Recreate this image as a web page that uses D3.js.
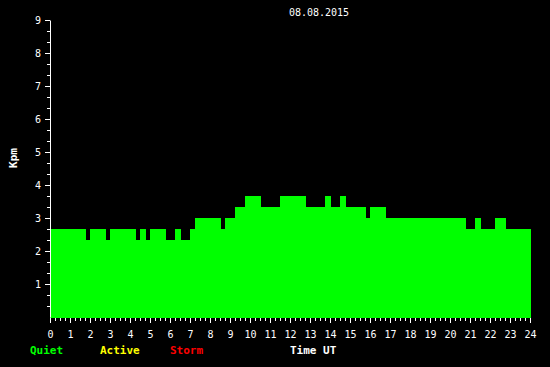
<!DOCTYPE html>
<html>
<head>
<meta charset="utf-8">
<script src="https://cdn.jsdelivr.net/npm/d3@7"></script>
<style>
html, body { margin: 0; padding: 0; background: #000; }
svg { display: block; }
</style>
</head>
<body>
<svg id="chart" width="550" height="367"></svg>
<script>
// Segment start times (hours UT)
const segStart = [0, 1.8, 2.0, 2.8, 3.0, 4.3, 4.5, 4.8, 5.0, 5.8, 6.25, 6.55, 7.0, 7.25, 8.55, 8.75, 9.25, 9.75, 10.55, 11.5, 12.8, 13.75, 14.05, 14.5, 14.8, 15.8, 16.0, 16.8, 20.8, 21.25, 21.55, 22.25, 22.8];
// Segment end times (hours UT)
const segEnd = [1.8, 2.0, 2.8, 3.0, 4.3, 4.5, 4.8, 5.0, 5.8, 6.25, 6.55, 7.0, 7.25, 8.55, 8.75, 9.25, 9.75, 10.55, 11.5, 12.8, 13.75, 14.05, 14.5, 14.8, 15.8, 16.0, 16.8, 20.8, 21.25, 21.55, 22.25, 22.8, 24.05];
// Kpm values
const kpm = [2.667, 2.333, 2.667, 2.333, 2.667, 2.333, 2.667, 2.333, 2.667, 2.333, 2.667, 2.333, 2.667, 3.0, 2.667, 3.0, 3.333, 3.667, 3.333, 3.667, 3.333, 3.667, 3.333, 3.667, 3.333, 3.0, 3.333, 3.0, 2.667, 3.0, 2.667, 3.0, 2.667];

const xTicks = d3.range(0, 25);          // 0..24 hour labels
const yTicks = [1, 2, 3, 4, 5, 6, 7, 8, 9];
const title = "08.08.2015";
const legendItems = ["Quiet", "Active", "Storm"];
const legendColors = ["#00ff00", "#ffff00", "#ff0000"];

const svg = d3.select("#chart");
svg.append("rect").attr("width", 550).attr("height", 367).attr("fill", "#000");

const x = d3.scaleLinear().domain([0, 24]).range([50, 530]);
const y = d3.scaleLinear().domain([0, 9]).range([317, 20]);

const mono = "'DejaVu Sans Mono', 'Liberation Mono', monospace";

// bars
const data = kpm.map((v, i) => ({ s: segStart[i], e: segEnd[i], v }));
const barColor = v => v >= 5 ? "#ff0000" : (v >= 4 ? "#ffff00" : "#00ff00");
svg.append("g").selectAll("rect").data(data).join("rect")
  .attr("x", d => x(d.s))
  .attr("width", d => x(d.e) - x(d.s))
  .attr("y", d => Math.round(y(d.v)))
  .attr("height", d => y(0) + 1 - Math.round(y(d.v)))
  .attr("fill", d => barColor(d.v))
  .attr("shape-rendering", "crispEdges");

// y axis minor ticks
const yMinor = d3.range(1, 27).filter(i => i % 3 !== 0).map(i => i / 3);
svg.append("g").attr("transform", "translate(50,0)")
  .call(d3.axisLeft(y).tickValues(yMinor).tickSize(3).tickSizeOuter(0).tickFormat(""))
  .call(g => g.select(".domain").remove())
  .call(g => g.selectAll("line").attr("stroke", "#fff"));

// y axis major
svg.append("g").attr("transform", "translate(50,0)")
  .call(d3.axisLeft(y).tickValues(yTicks).tickSize(5).tickSizeOuter(0).tickPadding(4))
  .call(g => g.select(".domain").attr("stroke", "#fff"))
  .call(g => g.selectAll("line").attr("stroke", "#fff"))
  .call(g => g.selectAll("text").attr("fill", "#fff").attr("font-family", mono).attr("font-size", 10));

// x axis minor ticks (15 min)
const xMinor = d3.range(0, 97).filter(i => i % 4 !== 0).map(i => i / 4);
svg.append("g").attr("transform", "translate(0,318)")
  .call(d3.axisBottom(x).tickValues(xMinor).tickSize(3).tickSizeOuter(0).tickFormat(""))
  .call(g => g.select(".domain").remove())
  .call(g => g.selectAll("line").attr("stroke", "#fff"));

// x axis major
svg.append("g").attr("transform", "translate(0,318)")
  .call(d3.axisBottom(x).tickValues(xTicks).tickSize(5).tickSizeOuter(0).tickFormat(d3.format("d")))
  .call(g => g.select(".domain").remove())
  .call(g => g.selectAll("line").attr("stroke", "#fff"))
  .call(g => g.selectAll("text").attr("fill", "#fff").attr("font-family", mono).attr("font-size", 10)
    .attr("y", 20).attr("dy", null));

// title
svg.append("text").attr("x", 319).attr("y", 16).attr("text-anchor", "middle")
  .attr("fill", "#fff").attr("font-family", mono).attr("font-size", 10).text(title);

// y label
svg.append("text").attr("transform", "translate(16.5,158) rotate(-90)")
  .attr("text-anchor", "middle").attr("fill", "#fff").attr("font-family", mono)
  .attr("font-size", 11).attr("font-weight", "bold").text("Kpm");

// legend
const legendX = [30, 100, 170];
svg.append("g").selectAll("text").data(legendItems).join("text")
  .attr("x", (d, i) => legendX[i]).attr("y", 354)
  .attr("fill", (d, i) => legendColors[i]).attr("font-family", mono)
  .attr("font-size", 11).attr("font-weight", "bold").text(d => d);

svg.append("text").attr("x", 290).attr("y", 354).attr("fill", "#fff")
  .attr("font-family", mono).attr("font-size", 11).attr("font-weight", "bold").text("Time UT");
</script>
</body>
</html>
